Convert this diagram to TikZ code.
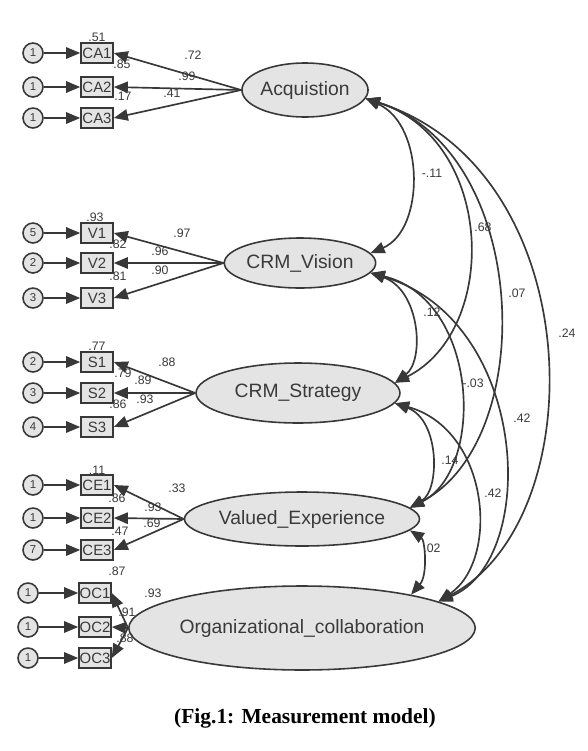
\documentclass[tikz,border=0pt]{standalone}
\usepackage{fontspec}
\setmainfont{Liberation Serif}
\newfontfamily\arialf{Liberation Sans}
\usetikzlibrary{arrows.meta,shapes.geometric}
\definecolor{lc}{HTML}{383838}
\definecolor{fc}{HTML}{E4E4E4}
\definecolor{tc}{HTML}{3A3A3A}
\begin{document}
\begin{tikzpicture}[x=0.02cm,y=-0.02cm,
  lat/.style={ellipse, draw=lc, fill=fc, line width=0.9pt, inner sep=0pt, font=\arialf\fontsize{11}{13}\selectfont, text=tc},
  obs/.style={rectangle, draw=lc, fill=fc, line width=0.9pt, minimum width=0.64cm, minimum height=0.4cm, inner sep=0pt, font=\arialf\fontsize{8.5}{10}\selectfont, text=tc},
  err/.style={circle, draw=lc, fill=fc, line width=0.9pt, minimum size=0.4cm, inner sep=0pt, font=\arialf\fontsize{6.5}{7}\selectfont, text=tc},
  arr/.style={draw=lc, line width=0.95pt, -{Triangle[length=8pt,width=6.5pt]}},
  corr/.style={draw=lc, line width=0.95pt, {Triangle[length=8pt,width=6.5pt]}-{Triangle[length=8pt,width=6.5pt]}},
  lab/.style={font=\arialf\fontsize{7}{8}\selectfont, text=tc, inner sep=0.5pt}]
\useasboundingbox (0,0) rectangle (588,751);

% latent variables
\node[lat, minimum width=2.48cm, minimum height=1.08cm] (acq) at (305,90) {Acquistion};
\node[lat, minimum width=2.88cm, minimum height=1.0cm] (vis) at (300,263) {CRM\_Vision};
\node[lat, minimum width=4.08cm, minimum height=1.2cm] (str) at (298,393) {CRM\_Strategy};
\node[lat, minimum width=3.64cm, minimum height=1.08cm] (ve) at (302,519) {Valued\_Experience};
\node[lat, minimum width=5.36cm, minimum height=1.68cm] (oc) at (302,628) {Organizational\_collaboration};

% observed variables and errors
\foreach \n/\t/\y/\e/\bx/\ex in {ca1/CA1/53/1/97/33, ca2/CA2/87/1/97/33, ca3/CA3/118/1/97/33,
  v1/V1/233/5/97/33, v2/V2/263/2/97/33, v3/V3/298/3/97/33,
  s1/S1/362/2/97/33, s2/S2/393/3/97/33, s3/S3/427/4/97/33,
  ce1/CE1/485/1/97/33, ce2/CE2/518/1/97/33, ce3/CE3/550/7/97/33,
  oc1/OC1/593/1/95/28, oc2/OC2/627/1/95/28, oc3/OC3/658/1/95/28}{
  \node[obs] (\n) at (\bx,\y) {\t};
  \node[err] (e\n) at (\ex,\y) {\e};
  \draw[arr] (e\n) -- (\n);
}

% loadings
\foreach \l/\o in {acq/ca1, acq/ca2, acq/ca3, vis/v1, vis/v2, vis/v3, str/s1, str/s2, str/s3, ve/ce1, ve/ce2, ve/ce3, oc/oc1, oc/oc2, oc/oc3}{
  \draw[arr] (\l.west) -- (\o.east);
}

% loading and R2 labels
\node[lab] (l1) at (97,37) {.51};
\node[lab] (l2) at (193,55) {.72};
\node[lab] (l3) at (187,76) {.99};
\node[lab] (l4) at (172,93) {.41};
\node[lab] (l5) at (122,64) {.85};
\node[lab] (l6) at (123,96) {.17};

\node[lab] (l7) at (95,217) {.93};
\node[lab] (l8) at (182,233) {.97};
\node[lab] (l9) at (160,251) {.96};
\node[lab] (l10) at (160,270) {.90};
\node[lab] (l11) at (118,244) {.82};
\node[lab] (l12) at (118,276) {.81};

\node[lab] (l13) at (97,346) {.77};
\node[lab] (l14) at (167,362) {.88};
\node[lab] (l15) at (143,380) {.89};
\node[lab] (l16) at (145,399) {.93};
\node[lab] (l17) at (123,373) {.79};
\node[lab] (l18) at (118,404) {.86};

\node[lab] (l19) at (97,470) {.11};
\node[lab] (l20) at (177,488) {.33};
\node[lab] (l21) at (153,507) {.93};
\node[lab] (l22) at (152,523) {.69};
\node[lab] (l23) at (117,498) {.86};
\node[lab] (l24) at (120,531) {.47};

\node[lab] (l25) at (117,571) {.87};
\node[lab] (l26) at (153,593) {.93};
\node[lab] (l27) at (127,612) {.91};
\node[lab] (l28) at (125,638) {.88};

% correlations
\draw[corr] (acq.-8) .. controls (425,125) and (425,230) .. (vis.8);
\draw[corr] (acq.-8) .. controls (495,140) and (500,330) .. (str.6);
\draw[corr] (acq.-8) .. controls (530,150) and (540,440) .. (ve.6);
\draw[corr] (acq.-8) .. controls (590,170) and (595,520) .. (oc.11);
\draw[corr] (vis.-8) .. controls (420,290) and (425,360) .. (str.6);
\draw[corr] (vis.-8) .. controls (480,300) and (485,470) .. (ve.6);
\draw[corr] (vis.-8) .. controls (530,320) and (540,560) .. (oc.11);
\draw[corr] (str.-6) .. controls (440,420) and (440,490) .. (ve.6);
\draw[corr] (str.-6) .. controls (490,430) and (500,560) .. (oc.11);
\draw[corr] (ve.-6) .. controls (425,540) and (428,575) .. (oc.17);

\node[lab] (c1) at (432,173) {-.11};
\node[lab] (c2) at (483,227) {.68};
\node[lab] (c3) at (517,293) {.07};
\node[lab] (c4) at (567,333) {.24};
\node[lab] (c5) at (432,312) {.12};
\node[lab] (c6) at (473,383) {-.03};
\node[lab] (c7) at (522,418) {.42};
\node[lab] (c8) at (450,460) {.14};
\node[lab] (c9) at (493,493) {.42};
\node[lab] (c10) at (432,548) {.02};

% caption
\node[font=\bfseries\fontsize{12.2}{14}\selectfont] (cap) at (305,718) {(Fig.1: Measurement model)};
\end{tikzpicture}
\end{document}
